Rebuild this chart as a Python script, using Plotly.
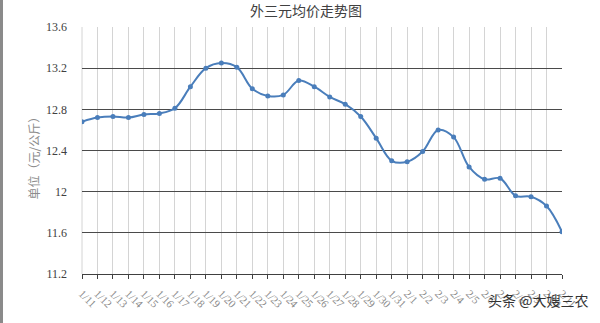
import plotly.graph_objects as go

dates = ["1/11", "1/12", "1/13", "1/14", "1/15", "1/16", "1/17", "1/18", "1/19", "1/20",
         "1/21", "1/22", "1/23", "1/24", "1/25", "1/26", "1/27", "1/28", "1/29", "1/30",
         "1/31", "2/1", "2/2", "2/3", "2/4", "2/5", "2/6", "2/7", "2/8", "2/9", "2/10", "2/11"]
prices = [12.68, 12.72, 12.73, 12.72, 12.75, 12.76, 12.81, 13.02, 13.20, 13.25,
          13.21, 13.00, 12.93, 12.94, 13.08, 13.02, 12.92, 12.85, 12.73, 12.52,
          12.30, 12.29, 12.39, 12.60, 12.53, 12.24, 12.12, 12.13, 11.96, 11.95,
          11.86, 11.61]
y_ticks = [11.2, 11.6, 12, 12.4, 12.8, 13.2, 13.6]
y_labels = ["11.2", "11.6", "12", "12.4", "12.8", "13.2", "13.6"]

fig = go.Figure()
fig.add_trace(go.Scatter(
    x=dates, y=prices, mode="lines+markers",
    line=dict(color="#4A7EBB", width=2, shape="spline", smoothing=1),
    marker=dict(color="#4A7EBB", size=5, symbol="circle"),
    showlegend=False, hoverinfo="x+y",
))

fig.update_layout(
    width=600, height=323,
    margin=dict(l=82, r=38, t=27, b=49),
    paper_bgcolor="white", plot_bgcolor="white",
    font=dict(family="DejaVu Serif, Liberation Serif, serif", color="#595959", size=11),
    title=dict(text="外三元均价走势图", x=0.51, xanchor="center", y=0.965, yanchor="middle",
               font=dict(family="Noto Sans CJK SC", size=14, color="#404040")),
    xaxis=dict(
        type="category", range=[0, len(dates) - 1],
        showgrid=True, gridcolor="#d4d4d4", gridwidth=1,
        showline=True, linecolor="#404040", linewidth=1,
        ticks="outside", ticklen=4, tickcolor="#404040",
        tickangle=45, tickfont=dict(size=11, color="#8a8a8a", family="Liberation Serif"),
        ticklabelstandoff=4,
        zeroline=False,
    ),
    yaxis=dict(
        range=[11.2, 13.6], tickvals=y_ticks, ticktext=y_labels,
        showgrid=True, gridcolor="#4a4a4a", gridwidth=1,
        showline=False, zeroline=False, ticks="",
        tickfont=dict(size=12, color="#404040", family="Liberation Serif"),
        ticklabelstandoff=14,
    ),
    annotations=[
        dict(text="单位（元/公斤）", textangle=-90, xref="paper", yref="paper",
             x=-82 / 480 + 33 / 480, y=0.48, xanchor="center", yanchor="middle",
             showarrow=False, font=dict(family="Noto Sans CJK SC", size=12, color="#8c8c8c")),
        dict(text="头条 @大嫂三农", xref="paper", yref="paper",
             x=(590 - 82) / 480, y=-(300 - 274) / 247, xanchor="right", yanchor="middle",
             showarrow=False, font=dict(family="Noto Sans CJK SC", size=14, color="#333333")),
    ],
    shapes=[
        dict(type="rect", xref="paper", yref="paper",
             x0=-82 / 480, x1=-79 / 480, y0=-49 / 247, y1=1 + 27 / 247,
             fillcolor="#8a8a8a", line=dict(width=0), layer="above"),
        dict(type="line", xref="paper", yref="paper", x0=0, x1=0, y0=0, y1=1,
             line=dict(color="#d4d4d4", width=1), layer="below"),
    ],
)

fig.write_html("out.html")
